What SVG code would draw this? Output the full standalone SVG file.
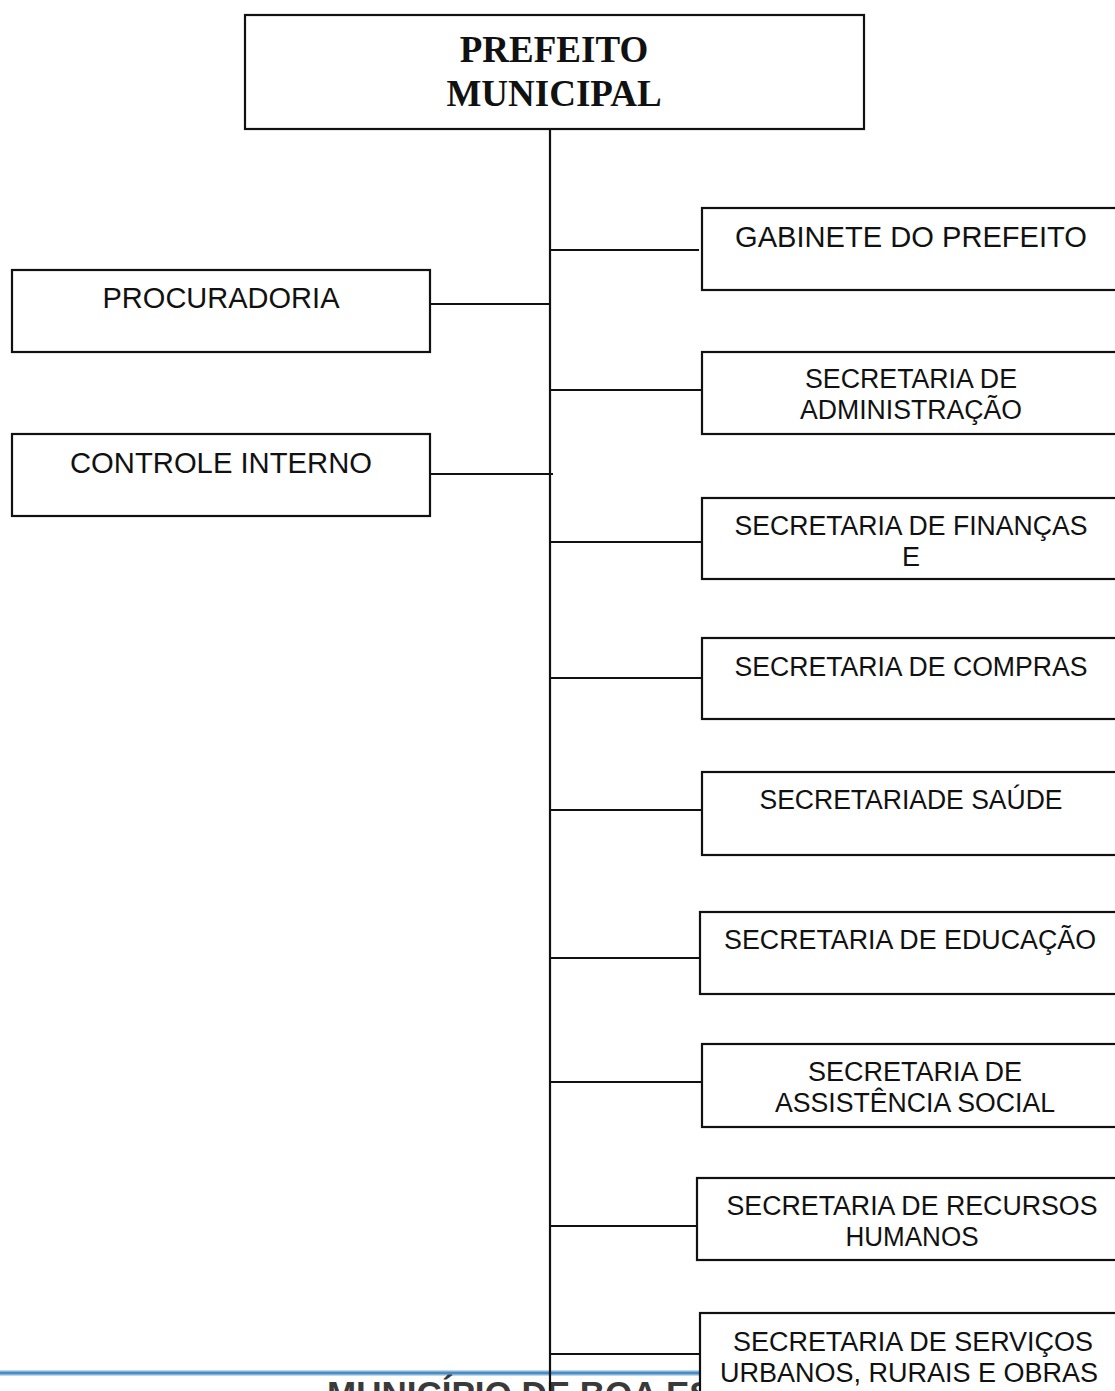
<svg xmlns="http://www.w3.org/2000/svg" width="1115" height="1391" viewBox="0 0 1115 1391">
  <style>
    .box { fill: #ffffff; stroke: #111111; stroke-width: 2.2; }
    .wire { stroke: #111111; stroke-width: 2.2; fill: none; }
    .lbl { font-family: "Liberation Sans", Arial, sans-serif; font-size: 27px; fill: #111111; text-anchor: middle; }
    .big { font-size: 30px; }
    .head { font-family: "Liberation Serif", "Times New Roman", serif; font-size: 37px; font-weight: bold; fill: #111111; text-anchor: middle; }
    .foot { font-family: "Liberation Sans", Arial, sans-serif; font-size: 35px; font-weight: bold; fill: #3a3a3a; }
  </style>
  <defs>
    <linearGradient id="rule" x1="0" y1="0" x2="0" y2="1">
      <stop offset="0" stop-color="#d8ecf8"/>
      <stop offset="0.5" stop-color="#2e79b8"/>
      <stop offset="1" stop-color="#d8ecf8"/>
    </linearGradient>
  </defs>
  <rect width="1115" height="1391" fill="#ffffff"/>

  <!-- page footer rule and letterhead -->
  <rect x="0" y="1370" width="720" height="6" fill="url(#rule)"/>
  <text class="foot" x="327" y="1406">MUNICÍPIO DE BOA ES</text>

  <!-- connectors -->
  <g id="connectors">
    <line class="wire" x1="550" y1="129" x2="550" y2="1391"/>
    <line class="wire" x1="550" y1="250" x2="699" y2="250"/>
    <line class="wire" x1="430" y1="304" x2="550" y2="304"/>
    <line class="wire" x1="550" y1="390" x2="702" y2="390"/>
    <line class="wire" x1="430" y1="474" x2="553" y2="474"/>
    <line class="wire" x1="550" y1="542" x2="702" y2="542"/>
    <line class="wire" x1="550" y1="678" x2="702" y2="678"/>
    <line class="wire" x1="550" y1="810" x2="702" y2="810"/>
    <line class="wire" x1="550" y1="958" x2="700" y2="958"/>
    <line class="wire" x1="550" y1="1082" x2="702" y2="1082"/>
    <line class="wire" x1="550" y1="1226" x2="701" y2="1226"/>
    <line class="wire" x1="550" y1="1354" x2="700" y2="1354"/>
  </g>

  <g id="prefeito">
    <rect class="box" x="245" y="15" width="619" height="114"/>
    <text class="head" x="554" y="62">PREFEITO</text>
    <text class="head" x="554" y="106">MUNICIPAL</text>
  </g>

  <g id="procuradoria">
    <rect class="box" x="12" y="270" width="418" height="82"/>
    <text class="lbl big" x="221" y="308" textLength="237" lengthAdjust="spacingAndGlyphs">PROCURADORIA</text>
  </g>

  <g id="controle-interno">
    <rect class="box" x="12" y="434" width="418" height="82"/>
    <text class="lbl big" x="221" y="473" textLength="302" lengthAdjust="spacingAndGlyphs">CONTROLE INTERNO</text>
  </g>

  <g id="gabinete">
    <rect class="box" x="702" y="208" width="430" height="82"/>
    <text class="lbl big" x="911" y="247" textLength="352" lengthAdjust="spacingAndGlyphs">GABINETE DO PREFEITO</text>
  </g>

  <g id="sec-administracao">
    <rect class="box" x="702" y="352" width="430" height="82"/>
    <text class="lbl" x="911" y="388" textLength="212" lengthAdjust="spacingAndGlyphs">SECRETARIA DE</text>
    <text class="lbl" x="911" y="419" textLength="222" lengthAdjust="spacingAndGlyphs">ADMINISTRAÇÃO</text>
  </g>

  <g id="sec-financas">
    <rect class="box" x="702" y="498" width="430" height="81"/>
    <text class="lbl" x="911" y="535" textLength="353" lengthAdjust="spacingAndGlyphs">SECRETARIA DE FINANÇAS</text>
    <text class="lbl" x="911" y="566">E</text>
  </g>

  <g id="sec-compras">
    <rect class="box" x="702" y="638" width="430" height="81"/>
    <text class="lbl" x="911" y="676" textLength="353" lengthAdjust="spacingAndGlyphs">SECRETARIA DE COMPRAS</text>
  </g>

  <g id="sec-saude">
    <rect class="box" x="702" y="772" width="430" height="83"/>
    <text class="lbl" x="911" y="809" textLength="303" lengthAdjust="spacingAndGlyphs">SECRETARIADE SAÚDE</text>
  </g>

  <g id="sec-educacao">
    <rect class="box" x="700" y="912" width="432" height="82"/>
    <text class="lbl" x="910" y="949" textLength="372" lengthAdjust="spacingAndGlyphs">SECRETARIA DE EDUCAÇÃO</text>
  </g>

  <g id="sec-assistencia">
    <rect class="box" x="702" y="1044" width="430" height="83"/>
    <text class="lbl" x="915" y="1081" textLength="214" lengthAdjust="spacingAndGlyphs">SECRETARIA DE</text>
    <text class="lbl" x="915" y="1112" textLength="280" lengthAdjust="spacingAndGlyphs">ASSISTÊNCIA SOCIAL</text>
  </g>

  <g id="sec-recursos-humanos">
    <rect class="box" x="697" y="1178" width="435" height="82"/>
    <text class="lbl" x="912" y="1215" textLength="371" lengthAdjust="spacingAndGlyphs">SECRETARIA DE RECURSOS</text>
    <text class="lbl" x="912" y="1246" textLength="133" lengthAdjust="spacingAndGlyphs">HUMANOS</text>
  </g>

  <g id="sec-servicos">
    <rect class="box" x="700" y="1313" width="432" height="100"/>
    <text class="lbl" x="913" y="1351" textLength="360" lengthAdjust="spacingAndGlyphs">SECRETARIA DE SERVIÇOS</text>
    <text class="lbl" x="909" y="1382" textLength="378" lengthAdjust="spacingAndGlyphs">URBANOS, RURAIS E OBRAS</text>
  </g>
</svg>
